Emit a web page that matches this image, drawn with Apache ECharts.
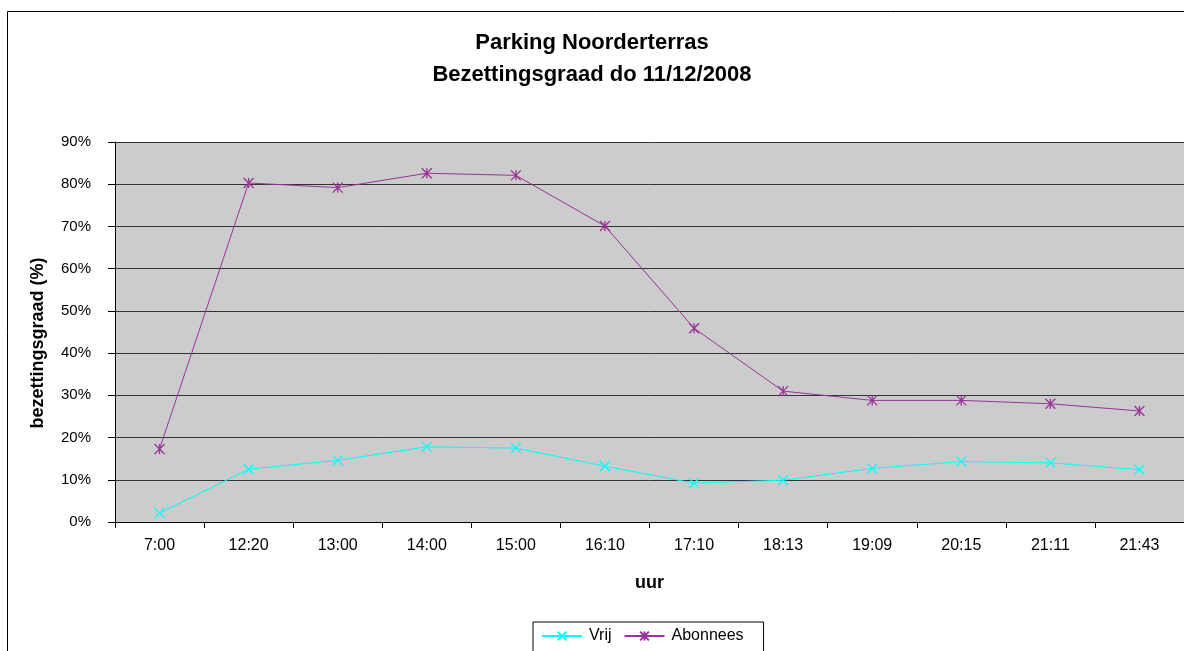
<!DOCTYPE html>
<html>
<head>
<meta charset="utf-8">
<script src="https://cdn.jsdelivr.net/npm/echarts@6/dist/echarts.min.js"></script>
<style>
html,body{margin:0;padding:0;background:#fff;}
#c{width:1184px;height:651px;}
</style>
</head>
<body>
<div id="c"></div>
<script>
const categories = ['7:00','12:20','13:00','14:00','15:00','16:10','17:10','18:13','19:09','20:15','21:11','21:43'];
const vrij = [2.1, 12.5, 14.6, 17.8, 17.5, 13.2, 9.2, 9.9, 12.7, 14.3, 14.0, 12.4];
const abonnees = [17.3, 80.3, 79.2, 82.6, 82.1, 70.1, 45.9, 31.0, 28.8, 28.8, 28.0, 26.3];
const yTicks = [0, 10, 20, 30, 40, 50, 60, 70, 80, 90];

const FONT = 'Liberation Sans, Arial, sans-serif';
const xMark = 'path://M0,0L10,10M10,0L0,10';
const starMark = 'path://M0,0L10,10M10,0L0,10M5,0L5,10';

const chart = echarts.init(document.getElementById('c'), null, {renderer: 'canvas'});
chart.setOption({
  backgroundColor: '#ffffff',
  animation: false,
  title: {
    text: 'Parking Noorderterras\nBezettingsgraad do 11/12/2008',
    left: 'center', top: 27, padding: 0,
    textStyle: {fontFamily: FONT, fontSize: 22, fontWeight: 'bold', color: '#000', lineHeight: 32}
  },
  graphic: [{
    type: 'rect', shape: {x: 7.5, y: 11.5, width: 1300, height: 800},
    style: {fill: 'none', stroke: '#000', lineWidth: 1}, z: -1
  }],
  legend: {
    left: 533, top: 622,
    padding: [6, 20, 10, 8],
    borderColor: '#000', borderWidth: 1,
    backgroundColor: '#fff',
    itemWidth: 40, itemHeight: 11, itemGap: 12,
    textStyle: {fontFamily: FONT, fontSize: 16, color: '#000', padding: [0, 0, 0, 2]},
    data: ['Vrij', 'Abonnees']
  },
  grid: {left: 115, top: 142, right: -1, bottom: 129, show: true, backgroundColor: '#cccccc', borderWidth: 0},
  xAxis: {
    type: 'category', data: categories, boundaryGap: true,
    name: 'uur', nameLocation: 'middle', nameGap: 52,
    nameTextStyle: {fontFamily: FONT, fontSize: 18, fontWeight: 'bold', color: '#000'},
    axisLine: {lineStyle: {color: '#000', width: 1}},
    axisTick: {show: true, length: 6, lineStyle: {color: '#000'}},
    axisLabel: {fontFamily: FONT, fontSize: 16, color: '#000', margin: 16}
  },
  yAxis: {
    type: 'value', min: yTicks[0], max: yTicks[yTicks.length-1], interval: 10,
    name: 'bezettingsgraad (%)', nameLocation: 'middle', nameGap: 68,
    nameTextStyle: {fontFamily: FONT, fontSize: 18, fontWeight: 'bold', color: '#000', padding: [0, 22, 0, 0]},
    axisLine: {show: true, lineStyle: {color: '#000', width: 1}},
    axisTick: {show: true, length: 7, lineStyle: {color: '#000'}},
    axisLabel: {fontFamily: FONT, fontSize: 15, color: '#000', margin: 24, formatter: '{value}%'},
    splitLine: {show: true, lineStyle: {color: '#333', width: 1}}
  },
  series: [{
    name: 'Vrij', type: 'line', data: vrij,
    symbol: xMark, symbolSize: 10,
    lineStyle: {color: '#00ffff', width: 1},
    itemStyle: {color: 'rgba(0,0,0,0)', borderColor: '#00ffff', borderWidth: 1.3}
  }, {
    name: 'Abonnees', type: 'line', data: abonnees,
    symbol: starMark, symbolSize: 10,
    lineStyle: {color: '#993399', width: 1},
    itemStyle: {color: 'rgba(0,0,0,0)', borderColor: '#993399', borderWidth: 1.3}
  }]
});
</script>
</body>
</html>
